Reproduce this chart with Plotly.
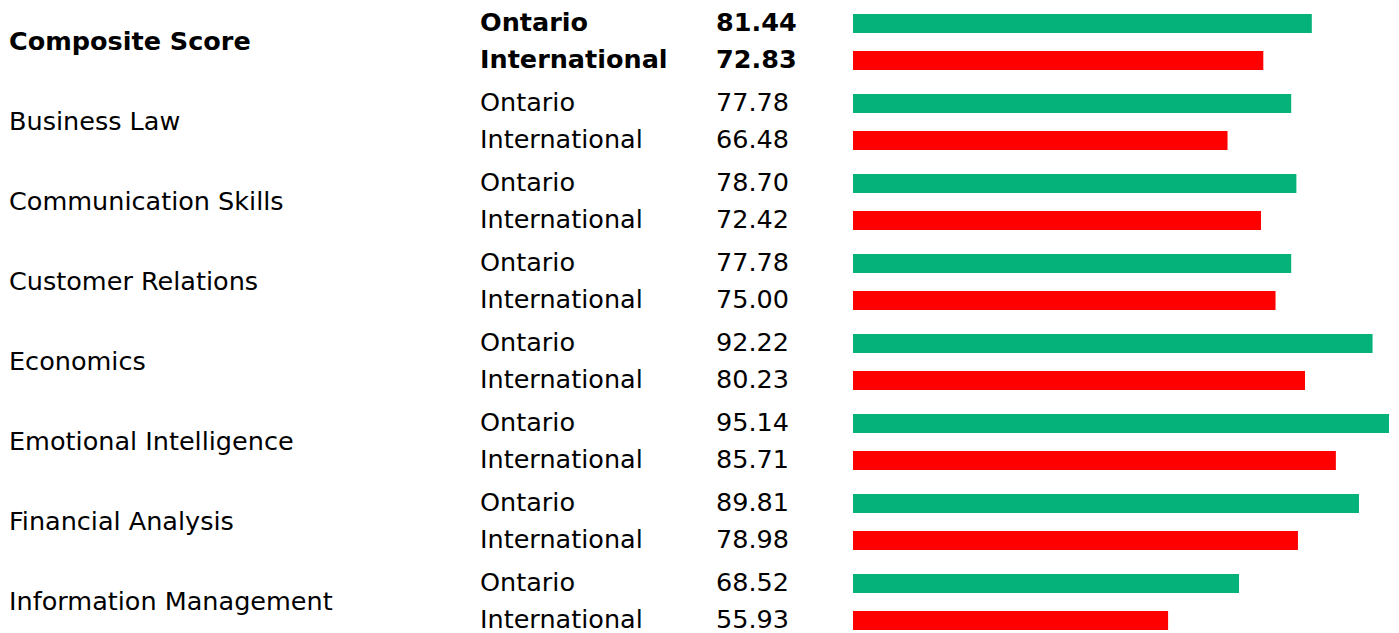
import plotly.graph_objects as go

categories = ["Composite Score", "Business Law", "Communication Skills", "Customer Relations",
              "Economics", "Emotional Intelligence", "Financial Analysis", "Information Management"]
series_names = ["Ontario", "International"]
ontario = [81.44, 77.78, 78.70, 77.78, 92.22, 95.14, 89.81, 68.52]
international = [72.83, 66.48, 72.42, 75.00, 80.23, 85.71, 78.98, 55.93]
colors = ["#05b27a", "#ff0000"]

W, H = 1399, 633
PAGE_OFF = 8  # default page body margin
FIRST_ROW = 23.5 - PAGE_OFF
ROW_STEP = 37
GROUP_STEP = 80
BAR_H = 19
TEXT_DY = -1.2
FONT = "DejaVu Sans"
FS = 25.5

# anchor positions (figure px)
X_CAT, X_SER, X_VAL = -1, 470, 706
X_BAR0, X_BAR1 = 853 - PAGE_OFF, 1389 - PAGE_OFF

fig = go.Figure()
annotations = []
series_vals = [ontario, international]
for r, (name, vals, col) in enumerate(zip(series_names, series_vals, colors)):
    ys = [FIRST_ROW + g * GROUP_STEP + r * ROW_STEP for g in range(len(categories))]
    fig.add_trace(go.Bar(orientation="h", x=vals, y=ys, width=BAR_H, marker=dict(color=col, line=dict(width=0)),
                         name=name, hoverinfo="x"))
    for g, (y, v) in enumerate(zip(ys, vals)):
        bold = g == 0
        t1 = f"<b>{name}</b>" if bold else name
        t2 = f"<b>{v:.2f}</b>" if bold else f"{v:.2f}"
        annotations.append(dict(x=X_SER / W, y=y + TEXT_DY, xref="paper", yref="y", text=t1, showarrow=False,
                                xanchor="left", yanchor="middle", font=dict(family=FONT, size=FS, color="black")))
        annotations.append(dict(x=X_VAL / W, y=y + TEXT_DY, xref="paper", yref="y", text=t2, showarrow=False,
                                xanchor="left", yanchor="middle", font=dict(family=FONT, size=FS, color="black")))

for g, cat in enumerate(categories):
    y = FIRST_ROW + g * GROUP_STEP + ROW_STEP / 2 + TEXT_DY
    t = f"<b>{cat}</b>" if g == 0 else cat
    annotations.append(dict(x=X_CAT / W, y=y, xref="paper", yref="y", text=t, showarrow=False,
                            xanchor="left", yanchor="middle", font=dict(family=FONT, size=FS, color="black")))

fig.update_layout(
    width=W, height=H, margin=dict(l=0, r=0, t=0, b=0),
    paper_bgcolor="white", plot_bgcolor="white", showlegend=False,
    xaxis=dict(domain=[X_BAR0 / W, X_BAR1 / W], range=[0, max(ontario + international)], visible=False,
               fixedrange=True),
    yaxis=dict(range=[H, 0], visible=False, fixedrange=True),
    annotations=annotations,
    font=dict(family=FONT),
)

fig.write_html("out.html")
